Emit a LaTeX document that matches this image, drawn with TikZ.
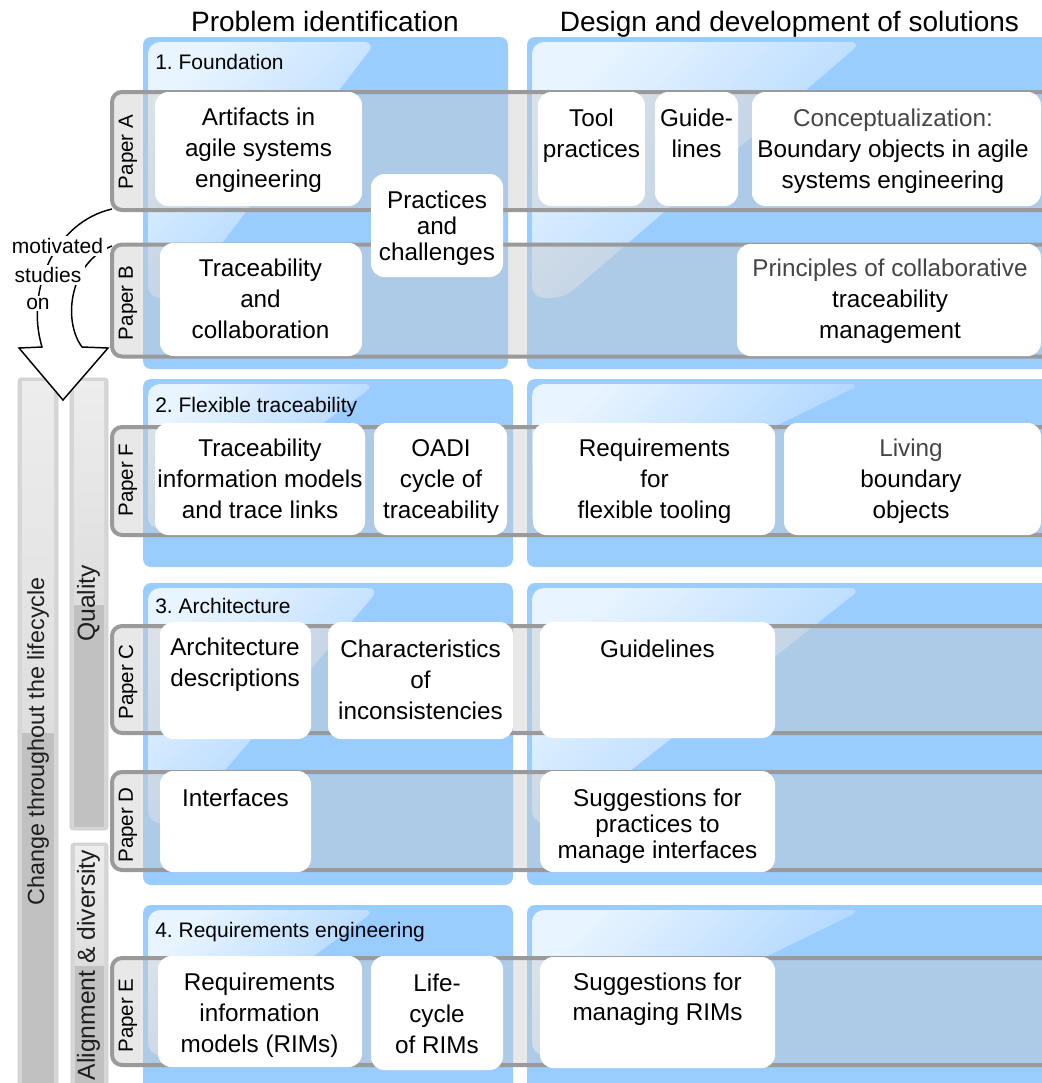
\documentclass[tikz,border=0pt]{standalone}
\usepackage{fontspec}
\setmainfont{Liberation Sans}
\definecolor{panelblue}{HTML}{99CCFF}
\definecolor{hllight}{HTML}{E8F4FF}
\definecolor{hldark}{HTML}{A3D0FF}
\definecolor{bandline}{HTML}{9A9A9A}
\definecolor{bandfill}{HTML}{C9C9C9}
\definecolor{barlight}{HTML}{EDEDED}
\definecolor{barmid}{HTML}{DEDEDE}
\definecolor{baredge}{HTML}{D6D6D6}
\definecolor{bardark}{HTML}{C1C1C1}
\definecolor{barline}{HTML}{CDCDCD}
\definecolor{txtgray}{HTML}{454545}
\tikzset{
  panel/.style={fill=panelblue, rounded corners=6pt},
  hlight/.style={left color=hllight, right color=hldark, shading angle=45, rounded corners=9pt},
  band/.style={draw=bandline, line width=3pt, fill=bandfill, fill opacity=0.43, rounded corners=7.5pt},
  wbox/.style={fill=white, rounded corners=10pt},
  btext/.style={font=\fontsize{18.2}{23.25}\selectfont, align=center, inner sep=0pt, execute at begin node=\strut, execute at end node=\strut},
  btight/.style={btext, font=\fontsize{18.2}{19.5}\selectfont},
  htext/.style={font=\fontsize{15.75}{18.9}\selectfont, anchor=west, inner sep=0pt, execute at begin node=\strut},
  ttext/.style={font=\fontsize{21}{25.2}\selectfont, inner sep=0pt, execute at begin node=\strut},
  ptext/.style={font=\fontsize{15.4}{18.5}\selectfont, rotate=90, inner sep=0pt},
  bartext/.style={font=\fontsize{18.5}{22}\selectfont, rotate=90, inner sep=0pt, text=black!88},
  mtext/.style={font=\fontsize{15.75}{18.9}\selectfont, fill=white, inner xsep=3pt, inner ysep=1.5pt},
}
\newcommand\myhl[4]{\shade[hlight] (#1,#2) -- ({#1+#3},#2) -- ({#1+32},{#2+#4}) -- (#1,{#2+#4}) -- cycle;}
\newcommand\mybar[5]{%
  \fill[baredge, rounded corners=2.5pt] (#1,#2) rectangle (#3,#4);
  \fill[bardark] ({#1+4},#5) rectangle ({#3-4},{#4-3});
  \shade[top color=barlight, bottom color=barmid] ({#1+4},{#2+3}) rectangle ({#3-4},#5);
  \draw[barline, line width=0.6pt, rounded corners=2.5pt] (#1,#2) rectangle (#3,#4);
}
\begin{document}
\begin{tikzpicture}[x=0.75pt, y=-0.75pt]
\useasboundingbox (0,0) rectangle (1042,1083);
\clip (0,0) rectangle (1042,1083);

% side bars
\mybar{18}{378}{58}{1100}{732}
\mybar{70}{378}{108}{830}{604}
\mybar{71}{843}{108}{1100}{965}

% panels
\fill[panel] (143,37) rectangle (508,369);
\fill[panel] (527,37) rectangle (1070,369);
\fill[panel] (143,379) rectangle (513,567);
\fill[panel] (527,379) rectangle (1070,567);
\fill[panel] (143,583) rectangle (513,885);
\fill[panel] (527,583) rectangle (1070,885);
\fill[panel] (143,905) rectangle (513,1110);
\fill[panel] (527,905) rectangle (1070,1110);

% highlights
\myhl{148}{42}{228}{256}
\myhl{532}{42}{330}{256}
\myhl{148}{384}{228}{145}
\myhl{532}{384}{330}{145}
\myhl{148}{588}{232}{235}
\myhl{532}{588}{330}{235}
\myhl{148}{910}{228}{145}
\myhl{532}{910}{330}{145}

% paper bands
\draw[band] (112,92) rectangle (1075,210);
\draw[band] (112,244.5) rectangle (1075,356.5);
\draw[band] (112,427) rectangle (1075,535);
\draw[band] (112,626) rectangle (1075,733);
\draw[band] (112,772) rectangle (1075,870);
\draw[band] (112,958) rectangle (1075,1065);

% white boxes
\fill[wbox] (155,92) rectangle (362,206);
\fill[wbox] (371,174) rectangle (503,277);
\fill[wbox] (160,243) rectangle (362,356);
\fill[wbox] (538,92) rectangle (645,206);
\fill[wbox] (655,92) rectangle (738,206);
\fill[wbox] (752,92) rectangle (1041,206);
\fill[wbox] (737,244) rectangle (1041,356);
\fill[wbox] (155,423) rectangle (365,535);
\fill[wbox] (374,423) rectangle (507,535);
\fill[wbox] (533,423) rectangle (775,535);
\fill[wbox] (784,423) rectangle (1041,535);
\fill[wbox] (160,622) rectangle (311,739);
\fill[wbox] (328,622) rectangle (513,739);
\fill[wbox] (540,622) rectangle (775,738);
\fill[wbox] (160,771) rectangle (311,872);
\fill[wbox] (540,771) rectangle (775,872);
\fill[wbox] (158,956) rectangle (362,1067);
\fill[wbox] (371,956) rectangle (503,1070);
\fill[wbox] (540,957) rectangle (775,1068);

% titles
\node[ttext] (tProb) at (325,25) {Problem identification};
\node[ttext] (tDes) at (789.5,25) {Design and development of solutions};

% group headers
\node[htext] (h1) at (155,64) {1.\ Foundation};
\node[htext] (h2) at (155,407) {2.\ Flexible traceability};
\node[htext] (h3) at (155,608.5) {3.\ Architecture};
\node[htext] (h4) at (155,932.5) {4.\ Requirements engineering};

% paper labels
\node[ptext] (pA) at (128,152) {Paper A};
\node[ptext] (pB) at (128,303) {Paper B};
\node[ptext] (pF) at (128,480) {Paper F};
\node[ptext] (pC) at (128,682) {Paper C};
\node[ptext] (pD) at (128,825) {Paper D};
\node[ptext] (pE) at (128,1015.5) {Paper E};

% box texts
\node[btext] (nArt) at (258.5,152.5) {Artifacts in\\agile systems\\engineering};
\node[btight] (nPrac) at (437,230) {Practices\\and\\challenges};
\node[btext] (nTrc) at (260.5,303.5) {Traceability\\and\\collaboration};
\node[btext] (nTool) at (591.5,137.5) {Tool\\practices};
\node[btext] (nGuide) at (696.5,137.5) {Guide-\\lines};
\node[btext] (nConc) at (893,153) {{\color{txtgray}Conceptualization:}\\Boundary objects in agile\\systems engineering};
\node[btext] (nPrin) at (890,303.5) {{\color{txtgray}Principles of collaborative}\\traceability\\management};
\node[btext] (nTIM) at (260,483.5) {Traceability\\information models\\and trace links};
\node[btext] (nOADI) at (441,483.5) {OADI\\cycle of\\traceability};
\node[btext] (nReqT) at (654.5,483.5) {Requirements\\for\\flexible tooling};
\node[btext] (nLiv) at (911,483.5) {{\color{txtgray}Living}\\boundary\\objects};
\node[btext] (nArch) at (235,666.5) {Architecture\\descriptions};
\node[btext] (nChar) at (420.5,684) {Characteristics\\of\\inconsistencies};
\node[btext] (nGl) at (657.5,651.5) {Guidelines};
\node[btext] (nIf) at (235.5,800) {Interfaces};
\node[btight] (nSugI) at (657.5,827.5) {Suggestions for\\practices to\\manage interfaces};
\node[btext] (nRIM) at (259.5,1017) {Requirements\\information\\models (RIMs)};
\node[btext] (nLife) at (437,1018) {Life-\\cycle\\of RIMs};
\node[btext, font=\fontsize{18.2}{22}\selectfont] (nSugR) at (657.5,1001) {Suggestions for\\managing RIMs};

% side bar texts
\node[bartext, font=\fontsize{17.5}{21}\selectfont] (sChange) at (38,741.5) {Change throughout the lifecycle};
\node[bartext] (sQual) at (88.5,603.5) {Quality};
\node[bartext] (sAlign) at (88.5,965) {Alignment \& diversity};

% motivating arrow
\coordinate (aTop) at (112,209);
\coordinate (aBot) at (112,246);
\draw[fill=white, line width=1.1pt, line join=miter] (aTop) .. controls (55,222) and (25,290) .. (42,347) -- (19,348) -- (63,400) -- (108,348) -- (82,347) .. controls (62,320) and (70,262) .. (aBot);
\node[mtext] (mot1) at (57.5,246) {motivated};
\node[mtext] (mot2) at (48,275) {studies};
\node[mtext] (mot3) at (38,303.5) {on};
\end{tikzpicture}
\end{document}
